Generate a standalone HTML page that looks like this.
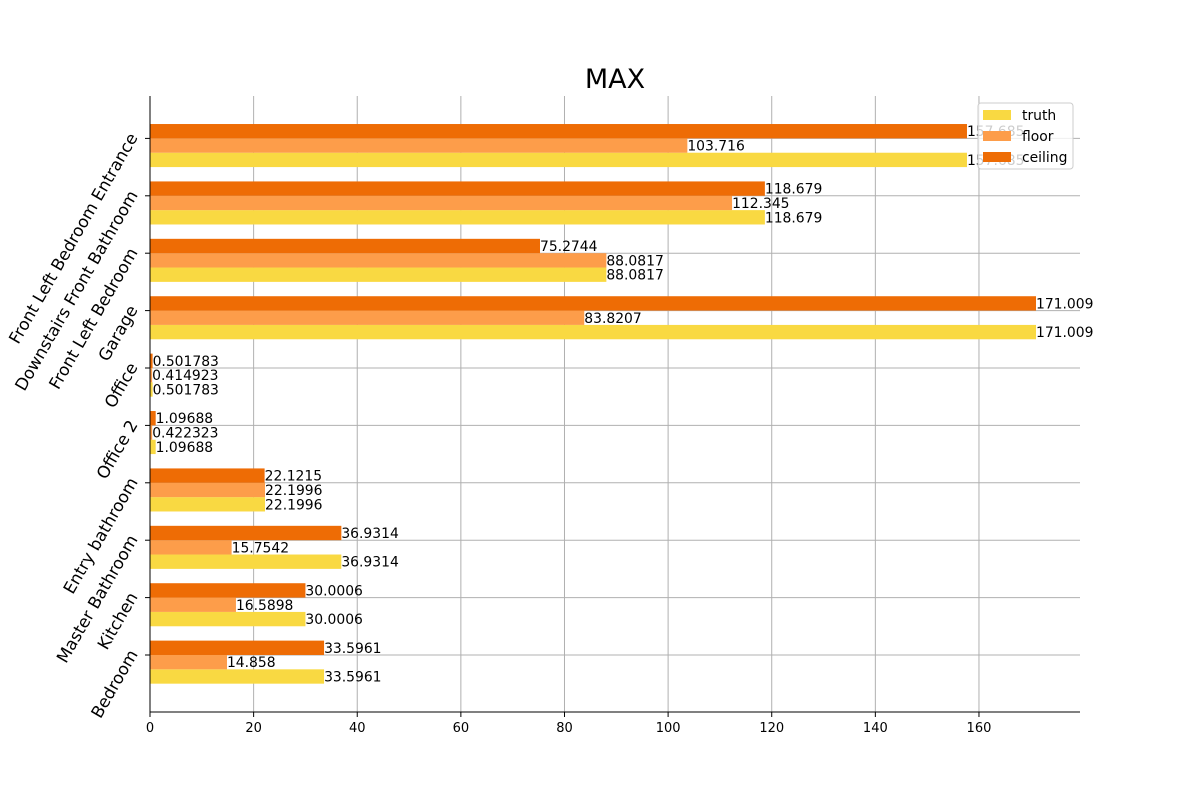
<!DOCTYPE html>
<html><head><meta charset="utf-8"><style>
body{margin:0;background:#fff}
svg{font-family:"DejaVu Sans","Liberation Sans",sans-serif}
</style></head><body>
<svg id="chart" width="1200" height="800" xmlns="http://www.w3.org/2000/svg">
<text x="615" y="88" font-size="27" text-anchor="middle">MAX</text>
<g id="grid"></g><g id="bars"></g><g id="labels"></g><g id="axes"></g>
</svg>
<script>
const categories=["Bedroom","Kitchen","Master Bathroom","Entry bathroom","Office 2","Office","Garage","Front Left Bedroom","Downstairs Front Bathroom","Front Left Bedroom Entrance"];
const truthValues=[33.5961,30.0006,36.9314,22.1996,1.09688,0.501783,171.009,88.0817,118.679,157.685];
const floorValues=[14.858,16.5898,15.7542,22.1996,0.422323,0.414923,83.8207,88.0817,112.345,103.716];
const ceilingValues=[33.5961,30.0006,36.9314,22.1215,1.09688,0.501783,171.009,75.2744,118.679,157.685];
const truthLabels=["33.5961","30.0006","36.9314","22.1996","1.09688","0.501783","171.009","88.0817","118.679","157.685"];
const floorLabels=["14.858","16.5898","15.7542","22.1996","0.422323","0.414923","83.8207","88.0817","112.345","103.716"];
const ceilingLabels=["33.5961","30.0006","36.9314","22.1215","1.09688","0.501783","171.009","75.2744","118.679","157.685"];
const xTicks=[0,20,40,60,80,100,120,140,160];
const NS="http://www.w3.org/2000/svg";
const L=150,R=1080,T=96,B=712,XMAX=179.5;
const x=v=>L+v/XMAX*(R-L);
const y=v=>655-v*57.4;
function mk(tag,attrs,parent){const e=document.createElementNS(NS,tag);for(const k in attrs)e.setAttribute(k,attrs[k]);document.getElementById(parent).appendChild(e);return e;}
xTicks.forEach(t=>{
 const g=mk('line',{x1:x(t),x2:x(t),y1:T,y2:B,stroke:'#b0b0b0','stroke-width':1},'grid');
 
 
 const tk=mk('line',{x1:x(t),x2:x(t),y1:B,y2:B+5,stroke:'#000'},'axes');
 
 
 const tl=mk('text',{x:x(t),y:B+20,'font-size':13,'text-anchor':'middle'},'axes');
 tl.textContent=t;
 
 
});
const series=[[truthValues,truthLabels,'#f9d942',-0.375,'truth'],[floorValues,floorLabels,'#fd9d4a',-0.125,'floor'],[ceilingValues,ceilingLabels,'#ee6c05',0.125,'ceiling']];
categories.forEach((c,i)=>{
 const gl=mk('line',{x1:L,x2:R,y1:y(i),y2:y(i),stroke:'#b0b0b0'},'grid');
 
 
 const tk=mk('line',{x1:L-5,x2:L,y1:y(i),y2:y(i),stroke:'#000'},'axes');
 
 
 const ax=133,ay=y(i)-4;
 const tl=mk('text',{x:ax,y:ay+6,'font-size':16.7,'text-anchor':'end',transform:`rotate(-60 ${ax} ${ay})`},'axes');
 tl.textContent=c;
 
 
 series.forEach(s=>{
  const v=s[0][i],yc=y(i+s[3]);
  const r=mk('rect',{x:L,y:yc-7.2,width:x(v)-L,height:14.35,fill:s[2]},'bars');
  
  
  const t=mk('text',{x:x(v),y:yc+5,'font-size':13.9},'labels');
  t.textContent=s[1][i];
  
  
 });
});
mk('line',{x1:L,x2:L,y1:T,y2:B,stroke:'#000'},'axes');
mk('line',{x1:L,x2:R,y1:B,y2:B,stroke:'#000'},'axes');
const lg=mk('g',{},'axes');


const lb=document.createElementNS(NS,'rect');
[['x',978],['y',103],['width',95],['height',66],['rx',3],['fill','#fff'],['fill-opacity',0.8],['stroke','#ccc']].forEach(a=>lb.setAttribute(a[0],a[1]));
lg.appendChild(lb);
series.forEach((s,k)=>{
 const r=document.createElementNS(NS,'rect');
 [['x',983],['y',110+k*21],['width',28],['height',10],['fill',s[2]]].forEach(a=>r.setAttribute(a[0],a[1]));
 
 
 lg.appendChild(r);
 const t=document.createElementNS(NS,'text');
 [['x',1022],['y',120+k*21],['font-size',13.9]].forEach(a=>t.setAttribute(a[0],a[1]));
 t.textContent=s[4];
 
 
 lg.appendChild(t);
});
</script>
</body></html>
